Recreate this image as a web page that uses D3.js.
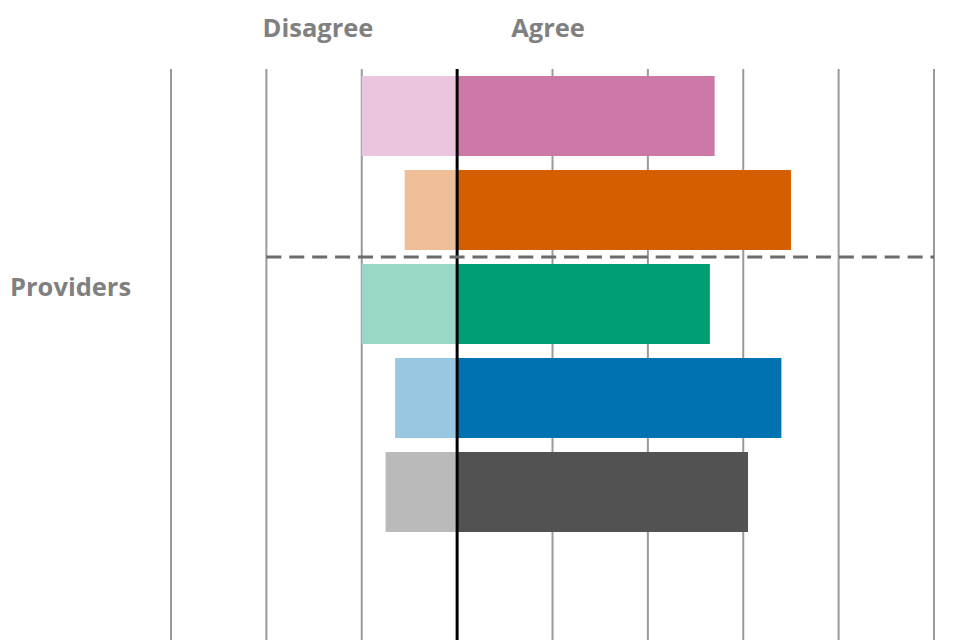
<!DOCTYPE html>
<html><head><meta charset="utf-8">
<script src="https://cdn.jsdelivr.net/npm/d3@7"></script>
<style>body{margin:0;background:#fff}svg{display:block}</style>
</head><body>
<svg id="c" width="960" height="640"></svg>
<script>
const categories = ["Series 1","Series 2","Series 3","Series 4","Series 5"];
const disagree = [20, 11, 20, 13, 15];
const agree = [54, 70, 53, 68, 61];
const agreeColors = ["#CC79A7","#D55E00","#009E73","#0072B2","#525252"];
const disagreeColors = ["#E9C6DD","#EEBE99","#99D8C7","#99C6E0","#BABABA"];
const tickValues = [-60,-40,-20,0,20,40,60,80,100];
const groupLabel = "Providers";

const svg = d3.select("#c");
const x = d3.scaleLinear().domain([-60,100]).range([171,934]);
const y = d3.scaleBand().domain(categories).range([69,539]).paddingInner(0.149).paddingOuter(0.0745);

// gridlines
svg.append("g").selectAll("line").data(tickValues.filter(d=>d!==0)).join("line")
  .attr("x1",d=>x(d)).attr("x2",d=>x(d)).attr("y1",69).attr("y2",640)
  .attr("stroke","#9a9a9a").attr("stroke-width",2);

// bars
const rows = categories.map((c,i)=>({c,i,d:disagree[i],a:agree[i]}));
svg.append("g").selectAll("rect").data(rows).join("rect")
  .attr("x",r=>x(-r.d)).attr("width",r=>x(0)-x(-r.d))
  .attr("y",r=>y(r.c)).attr("height",y.bandwidth())
  .attr("fill",r=>disagreeColors[r.i]);
svg.append("g").selectAll("rect").data(rows).join("rect")
  .attr("x",x(0)).attr("width",r=>x(r.a)-x(0))
  .attr("y",r=>y(r.c)).attr("height",y.bandwidth())
  .attr("fill",r=>agreeColors[r.i]);

// zero line
svg.append("line").attr("x1",x(0)).attr("x2",x(0)).attr("y1",69).attr("y2",640)
  .attr("stroke","#000").attr("stroke-width",3);

// dashed separator between row 2 and 3
const sepY = (y(categories[1]) + y.bandwidth() + y(categories[2]))/2;
svg.append("line").attr("x1",x(-40)).attr("x2",x(100)).attr("y1",sepY).attr("y2",sepY)
  .attr("stroke","#6b6b6b").attr("stroke-width",3).attr("stroke-dasharray","15,7.9");

// labels
const font = "'Open Sans', 'Liberation Sans', sans-serif";
svg.append("text").attr("x",318).attr("y",37).attr("text-anchor","middle")
  .attr("font-family",font).attr("font-weight","bold").attr("font-size",25.5)
  .attr("fill","#808080").text("Disagree");
svg.append("text").attr("x",548).attr("y",37).attr("text-anchor","middle")
  .attr("font-family",font).attr("font-weight","bold").attr("font-size",25.5)
  .attr("fill","#808080").text("Agree");
svg.append("text").attr("x",10).attr("y",296).attr("text-anchor","start")
  .attr("font-family",font).attr("font-weight","bold").attr("font-size",25.5)
  .attr("fill","#808080").text(groupLabel);
</script>
</body></html>
